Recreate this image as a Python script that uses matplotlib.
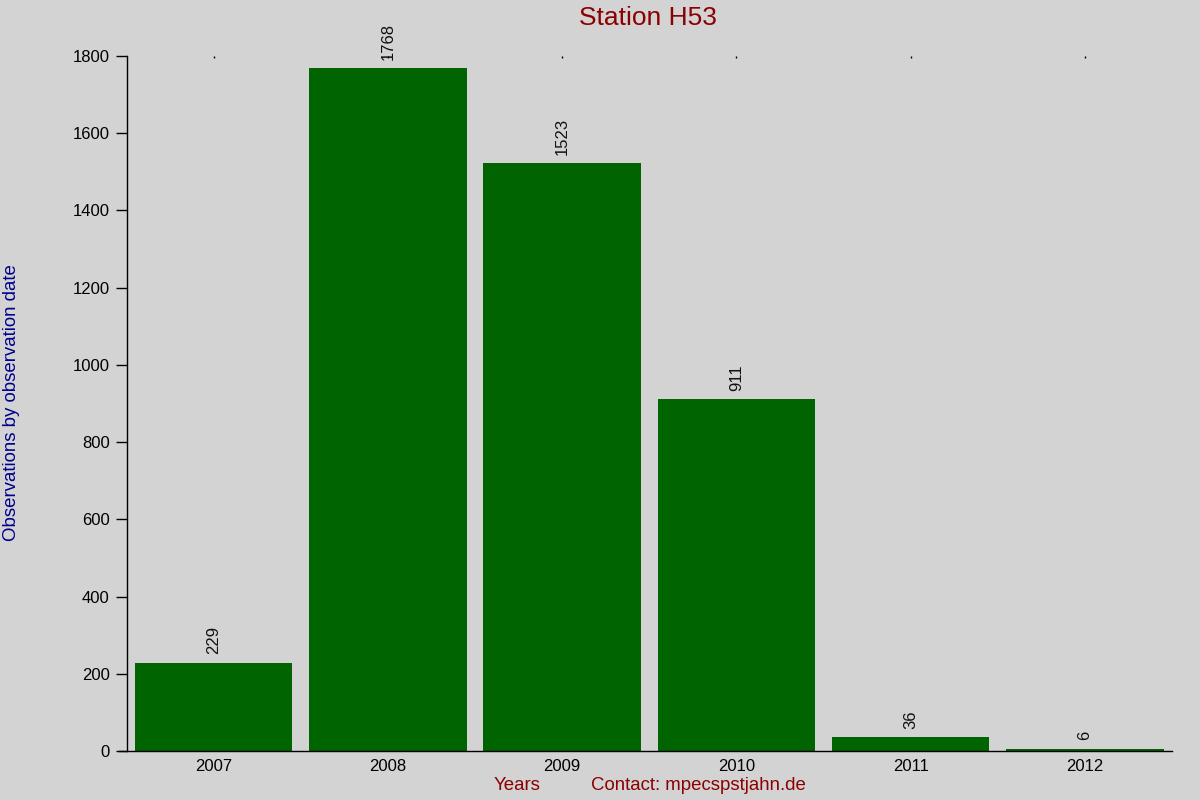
import matplotlib
matplotlib.use("Agg")
import matplotlib.pyplot as plt

years = ["2007", "2008", "2009", "2010", "2011", "2012"]
counts = [229, 1768, 1523, 911, 36, 6]
yticks = [0, 200, 400, 600, 800, 1000, 1200, 1400, 1600, 1800]

plt.rcParams['font.family'] = ['Liberation Sans', 'DejaVu Sans']

fig = plt.figure(figsize=(12, 8), dpi=100, facecolor='#d3d3d3')
ax = fig.add_axes([126.5/1200, 1-751/800, (1172-126.5)/1200, (751-56)/800])
ax.set_facecolor('#d3d3d3')

x = list(range(len(years)))
ax.bar(x, counts, width=0.905, color='#006400', zorder=2)
for xi, c in zip(x, counts):
    ax.annotate(str(c), (xi, c), xytext=(0, 6), textcoords='offset points',
                rotation=90, ha='center', va='bottom', fontsize=12, color='#111111')

ax.set_xlim(-0.5, len(years) - 0.5)
ax.set_ylim(0, 1800)
ax.set_xticks(x)
ax.set_xticklabels(years, fontsize=12)
ax.set_yticks(yticks)
ax.set_yticklabels([str(t) for t in yticks], fontsize=12)
ax.tick_params(axis='y', length=8, width=1, pad=4)
ax.tick_params(axis='x', bottom=False, top=True, direction='in', length=1.5, width=1, pad=6)

for s in ['top', 'right']:
    ax.spines[s].set_visible(False)
ax.spines['left'].set_linewidth(1)
ax.spines['bottom'].set_linewidth(1)
ax.spines['bottom'].set_bounds(-0.5 - 8/174.5, len(years) - 0.5)

fig.text(0.54, 1-18/800, "Station H53", ha='center', va='center', fontsize=19, color='#8b0000')
fig.text(12/1200, 1-403/800, "Observations by observation date", rotation=90,
         ha='center', va='center', fontsize=13.4, color='#00008b')
fig.text(517/1200, 1-786/800, "Years", ha='center', va='center', fontsize=13.4, color='#8b0000')
fig.text(698/1200, 1-786/800, "Contact: mpecspstjahn.de", ha='center', va='center', fontsize=13.4, color='#8b0000')

fig.savefig("out.png", dpi=100, facecolor='#d3d3d3')
